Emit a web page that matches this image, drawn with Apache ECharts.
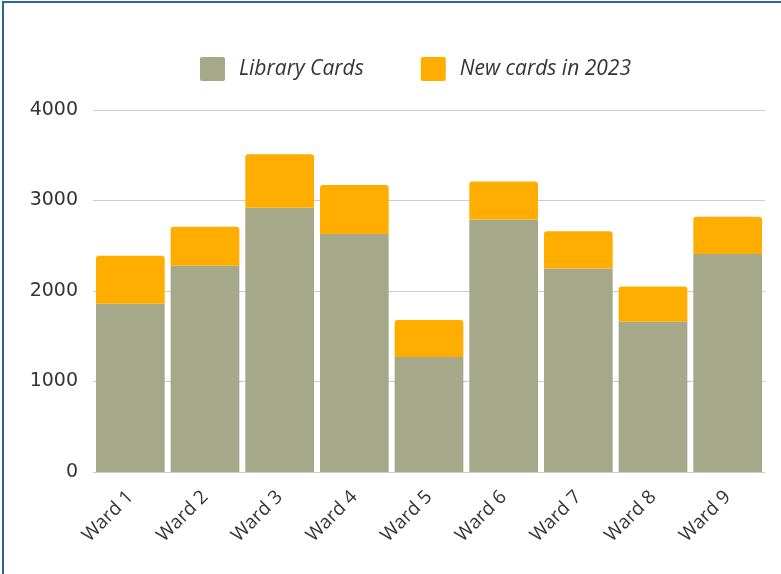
<!DOCTYPE html>
<html>
<head>
<meta charset="utf-8">
<script src="https://cdn.jsdelivr.net/npm/echarts@6/dist/echarts.min.js"></script>
<style>
html,body{margin:0;padding:0;background:#fff;}
#frame{position:absolute;left:0;top:0;width:781px;height:574px;box-sizing:border-box;border-top:2px solid #2b6891;border-left:2px solid #2b6891;margin-top:1px;margin-left:2px;}
#chart{position:absolute;left:0;top:0;width:781px;height:574px;}
</style>
</head>
<body>
<div id="frame"></div>
<div id="chart"></div>
<script>
const categories = ['Ward 1','Ward 2','Ward 3','Ward 4','Ward 5','Ward 6','Ward 7','Ward 8','Ward 9'];
const libraryCards = [1860, 2280, 2920, 2630, 1270, 2790, 2250, 1660, 2410];
const newCards2023 = [530, 430, 590, 540, 410, 420, 410, 390, 410];
const seriesNames = ['Library Cards', 'New cards in 2023'];
const yTicks = {min: 0, max: 4000, interval: 1000};

const chart = echarts.init(document.getElementById('chart'), null, {renderer: 'canvas'});
const font = '"Open Sans", sans-serif';
chart.setOption({
  animation: false,
  legend: {
    top: 52,
    left: 195,
    itemWidth: 25,
    itemHeight: 24,
    itemGap: 57,
    icon: 'path://M2,0 L23,0 Q25,0 25,2 L25,22 Q25,24 23,24 L2,24 Q0,24 0,22 L0,2 Q0,0 2,0 Z',
    textStyle: {fontFamily: font, fontSize: 21, fontStyle: 'italic', color: '#333', padding: [0,0,0,9]},
    data: seriesNames
  },
  grid: {left: 93, right: 16, top: 110, bottom: 102},
  xAxis: {
    type: 'category',
    data: categories,
    axisLine: {show: false},
    axisTick: {show: false},
    axisLabel: {rotate: 45, fontFamily: font, fontSize: 19, color: '#333', margin: 22, interval: 0}
  },
  yAxis: {
    type: 'value',
    min: yTicks.min, max: yTicks.max, interval: yTicks.interval,
    axisLine: {show: false},
    axisTick: {show: false},
    axisLabel: {fontFamily: '"DejaVu Sans", sans-serif', fontSize: 19, color: '#333', margin: 15,
                formatter: function (v) { return String(v); }},
    splitLine: {lineStyle: {color: '#cccccc', width: 1}}
  },
  series: [
    {name: seriesNames[0], type: 'bar', stack: 'total', data: libraryCards, barCategoryGap: '8%',
     itemStyle: {color: '#a5a989'}},
    {name: seriesNames[1], type: 'bar', stack: 'total', data: newCards2023, barCategoryGap: '8%',
     itemStyle: {color: '#ffae00', borderRadius: [3,3,0,0]}}
  ]
});
</script>
</body>
</html>
